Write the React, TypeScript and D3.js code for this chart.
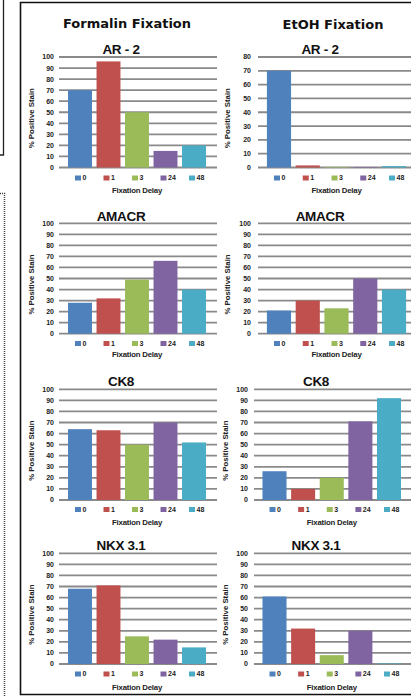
import React from "react";
import * as d3 from "d3";

const categories = ["0", "1", "3", "24", "48"];
const seriesColors = ["#4F81BD", "#C0504D", "#9BBB59", "#8064A2", "#4BACC6"];

const formalinAR2 = [70, 96, 50, 15, 20];
const etohAR2 = [70, 1.5, 0.4, 0.4, 1];
const formalinAMACR = [28, 32, 49, 66, 40];
const etohAMACR = [21, 30, 23, 50, 40];
const formalinCK8 = [64, 63, 50, 70, 52];
const etohCK8 = [26, 10, 20, 71, 92];
const formalinNKX = [68, 71, 25, 22, 15];
const etohNKX = [61, 32, 8, 30, 0.5];

const ticks100 = [0, 10, 20, 30, 40, 50, 60, 70, 80, 90, 100];
const ticks80 = [0, 10, 20, 30, 40, 50, 60, 70, 80];

const columnHeaders = ["Formalin Fixation", "EtOH Fixation"];
const chartTitles = ["AR - 2", "AMACR", "CK8", "NKX 3.1"];
const yAxisTitle = "% Positive Stain";
const xAxisTitle = "Fixation Delay";

type Layout = {
  gx0: number; gx1: number; b0: number; b1: number; labelX: number; axisTitleX: number; titleX: number;
};

const leftCol: Layout = { gx0: 59, gx1: 217, b0: 65.75, b1: 208.25, labelX: 54, axisTitleX: 34, titleX: 121 };
const rightTop: Layout = { gx0: 258, gx1: 418, b0: 264.6, b1: 408.4, labelX: 251, axisTitleX: 230, titleX: 320 };
const rightBot: Layout = { gx0: 254, gx1: 418, b0: 260.2, b1: 403.3, labelX: 248, axisTitleX: 228, titleX: 316 };

const rows = [
  { yTop: 57, yBot: 167.5, titleY: 53.5, legendY: 178, xTitleY: 193 },
  { yTop: 223.3, yBot: 333.7, titleY: 220.5, legendY: 343.5, xTitleY: 357 },
  { yTop: 389.3, yBot: 500, titleY: 385.5, legendY: 509.5, xTitleY: 524.5 },
  { yTop: 553.3, yBot: 664, titleY: 549.5, legendY: 674, xTitleY: 689.5 },
];

const panels = [
  { row: 0, layout: leftCol, values: formalinAR2, ticks: ticks100 },
  { row: 0, layout: rightTop, values: etohAR2, ticks: ticks80 },
  { row: 1, layout: leftCol, values: formalinAMACR, ticks: ticks100 },
  { row: 1, layout: rightTop, values: etohAMACR, ticks: ticks100 },
  { row: 2, layout: leftCol, values: formalinCK8, ticks: ticks100 },
  { row: 2, layout: rightBot, values: etohCK8, ticks: ticks100 },
  { row: 3, layout: leftCol, values: formalinNKX, ticks: ticks100 },
  { row: 3, layout: rightBot, values: etohNKX, ticks: ticks100 },
];

const FONT = "'Liberation Sans', Arial, sans-serif";

function Panel({ p }: { p: (typeof panels)[number] }) {
  const r = rows[p.row];
  const L = p.layout;
  const max = p.ticks[p.ticks.length - 1];
  const y = d3.scaleLinear().domain([0, max]).range([r.yBot, r.yTop]);
  const x = d3.scaleBand<string>().domain(categories).range([L.b0, L.b1]).paddingInner(0.16).paddingOuter(0.08);
  const midY = (r.yTop + r.yBot) / 2 + 6;
  return (
    <g>
      <text x={L.titleX} y={r.titleY} textAnchor="middle" fontFamily={FONT} fontWeight="bold" fontSize={13.5} fill="#111" letterSpacing={-0.3}>
        {chartTitles[p.row]}
      </text>
      {p.ticks.map((t) => (
        <g key={t}>
          <line x1={L.gx0} x2={L.gx1} y1={y(t)} y2={y(t)} stroke="#8a8a8a" strokeWidth={1.8} />
          <text x={L.labelX} y={y(t)} dy="0.35em" textAnchor="end" fontFamily={FONT} fontWeight="bold" fontSize={7} fill="#222">
            {t}
          </text>
        </g>
      ))}
      {p.values.map((v, i) => (
        <rect key={i} x={x(categories[i])} width={x.bandwidth()} y={y(v)} height={r.yBot - y(v)} fill={seriesColors[i]} />
      ))}
      <text transform={`translate(${L.axisTitleX},${midY}) rotate(-90)`} textAnchor="middle" fontFamily={FONT} fontWeight="bold" fontSize={7.8} fill="#222">
        {yAxisTitle}
      </text>
      {categories.map((c, i) => {
        const cx = (x(c) as number) + x.bandwidth() / 2 - 5;
        return (
          <g key={c}>
            <rect x={cx} y={r.legendY - 2.5} width={6} height={5} fill={seriesColors[i]} />
            <text x={cx + 7.5} y={r.legendY} dy="0.35em" fontFamily={FONT} fontWeight="bold" fontSize={7} fill="#222">
              {c}
            </text>
          </g>
        );
      })}
      <text x={(L.b0 + L.b1) / 2} y={r.xTitleY} textAnchor="middle" fontFamily={FONT} fontWeight="bold" fontSize={7.8} fill="#222" letterSpacing={-0.2}>
        {xAxisTitle}
      </text>
    </g>
  );
}

export default function App() {
  return (
    <svg width={411} height={697} style={{ position: "absolute", left: 0, top: 0, background: "#fff" }}>
      <rect x={0} y={0} width={411} height={697} fill="#fff" />
      {/* left cut-off boxes */}
      <path d="M3.5,0 V155 H0" fill="none" stroke="#222" strokeWidth={1.3} />
      <path d="M0,193.5 H4.5 V697" fill="none" stroke="#444" strokeWidth={1.5} strokeDasharray="1,1" />
      {/* main frame */}
      <path d="M411,2.5 H20.5 V694.5 H411" fill="none" stroke="#111" strokeWidth={1.6} />
      <text x={127} y={28} textAnchor="middle" fontFamily="'DejaVu Sans', sans-serif" fontWeight="bold" fontSize={13} fill="#111">
        {columnHeaders[0]}
      </text>
      <text x={333} y={29} textAnchor="middle" fontFamily="'DejaVu Sans', sans-serif" fontWeight="bold" fontSize={13} fill="#111">
        {columnHeaders[1]}
      </text>
      {panels.map((p, i) => (
        <Panel key={i} p={p} />
      ))}
    </svg>
  );
}
